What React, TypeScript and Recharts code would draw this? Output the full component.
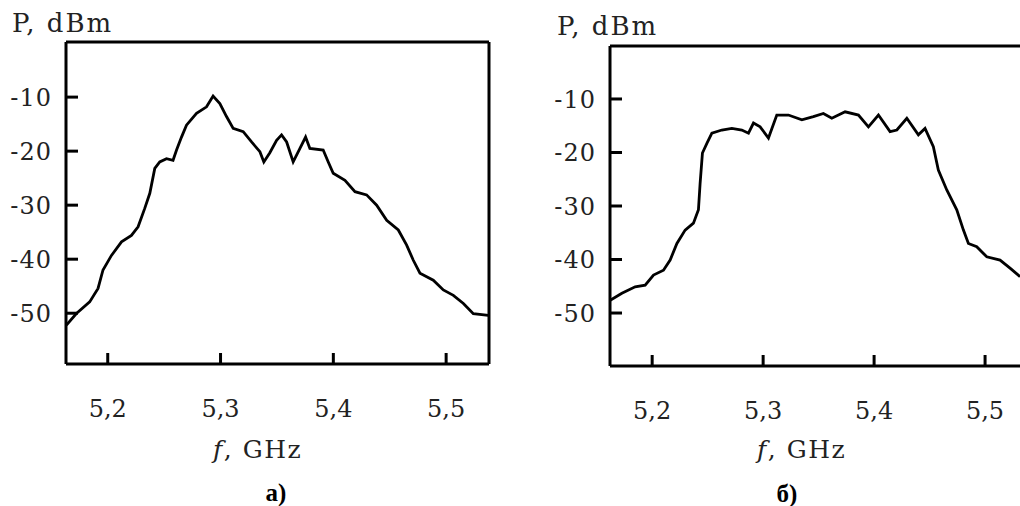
import { Line, LineChart, XAxis, YAxis } from "recharts";

// panel a) — spectrum
const FREQ_A = [
  5.1634, 5.172, 5.184, 5.1914, 5.1958, 5.2033, 5.2122, 5.221, 5.2269, 5.2328,
  5.2373, 5.2417, 5.2461, 5.2521, 5.2579, 5.261, 5.2654, 5.2698, 5.2787, 5.2876,
  5.2934, 5.2994, 5.3053, 5.3112, 5.3201, 5.3275, 5.3349, 5.3384, 5.3437, 5.3497,
  5.3541, 5.3586, 5.3644, 5.3704, 5.3754, 5.3792, 5.391, 5.3955, 5.3999, 5.4103,
  5.4192, 5.4295, 5.4384, 5.4473, 5.4576, 5.465, 5.4709, 5.4768, 5.4886, 5.4975,
  5.5064, 5.5153, 5.5241, 5.5374,
];
const POWER_A = [
  -52.2, -50.1, -47.9, -45.4, -42.0, -39.3, -36.8, -35.6, -34.0, -30.6,
  -27.8, -23.2, -22.0, -21.4, -21.7, -19.8, -17.4, -15.2, -13.0, -11.8,
  -9.8, -11.2, -13.6, -15.8, -16.4, -18.3, -20.1, -22.0, -20.3, -18.0,
  -17.0, -18.3, -22.0, -19.5, -17.4, -19.5, -19.8, -22.0, -24.1, -25.4,
  -27.5, -28.1, -30.0, -32.8, -34.6, -37.4, -40.2, -42.6, -43.9, -45.7,
  -46.7, -48.2, -50.1, -50.4,
];

// panel б)
const FREQ_B = [
  5.1622, 5.1727, 5.1847, 5.1937, 5.2012, 5.2102, 5.2162, 5.2223, 5.2297, 5.2372,
  5.2417, 5.2432, 5.2453, 5.2493, 5.2538, 5.2628, 5.2718, 5.2808, 5.2868, 5.2913,
  5.2973, 5.3048, 5.3123, 5.3228, 5.3349, 5.3453, 5.3543, 5.3619, 5.3739, 5.3859,
  5.3949, 5.4039, 5.4144, 5.4205, 5.4295, 5.4399, 5.4459, 5.4534, 5.4579, 5.4655,
  5.4745, 5.4805, 5.485, 5.4925, 5.5015, 5.5135, 5.5225, 5.5315,
];
const POWER_B = [
  -47.6, -46.3, -45.1, -44.8, -42.9, -42.0, -40.1, -37.0, -34.5, -33.2,
  -30.7, -25.8, -20.1, -18.3, -16.4, -15.8, -15.5, -15.8, -16.4, -14.5,
  -15.2, -17.3, -13.0, -13.0, -13.9, -13.3, -12.7, -13.6, -12.4, -13.0,
  -15.2, -13.0, -16.1, -15.8, -13.6, -16.7, -15.5, -18.9, -23.3, -27.0,
  -30.7, -34.5, -37.0, -37.6, -39.5, -40.1, -41.6, -43.2,
];

const FREQ_TICKS = [5.2, 5.3, 5.4, 5.5];
const POWER_TICKS = [-10, -20, -30, -40, -50];

const FONT = "'DejaVu Serif', serif";
const INK = "#222";

function zip(freq: number[], power: number[]) {
  return freq.map((f, i) => ({ f, p: power[i] }));
}

function XTick({ x, y, payload }: any) {
  return (
    <g>
      <line x1={x} x2={x} y1={y} y2={y - 11} stroke="#000" strokeWidth={3} />
      <text
        x={x}
        y={y + 53}
        textAnchor="middle"
        fontFamily={FONT}
        fontSize={24}
        fill={INK}
      >
        {String(payload.value).replace(".", ",")}
      </text>
    </g>
  );
}

function YTick({ x, y, payload }: any) {
  return (
    <g>
      <line x1={x} x2={x + 12} y1={y} y2={y} stroke="#000" strokeWidth={3} />
      <text
        x={x - 14}
        y={y}
        dy="0.36em"
        textAnchor="end"
        fontFamily={FONT}
        fontSize={24}
        letterSpacing={1}
        fill={INK}
      >
        {payload.value}
      </text>
    </g>
  );
}

function Panel({
  data,
  left,
  width,
  margin,
  xDomain,
  yDomain,
}: {
  data: { f: number; p: number }[];
  left: number;
  width: number;
  margin: { top: number; right: number; bottom: number; left: number };
  xDomain: [number, number];
  yDomain: [number, number];
}) {
  const axisLine = { stroke: "#000", strokeWidth: 3 };
  // axes take 1px each, so the margins are trimmed by that amount
  const m = {
    top: margin.top - 1,
    right: margin.right - 1,
    bottom: margin.bottom - 1,
    left: margin.left - 1,
  };
  return (
    <div style={{ position: "absolute", left, top: 0 }}>
      <LineChart width={width} height={506} data={data} margin={m}>
        <XAxis
          dataKey="f"
          type="number"
          domain={xDomain}
          allowDataOverflow
          ticks={FREQ_TICKS}
          height={1}
          tickSize={0}
          tickMargin={0}
          tickLine={false}
          axisLine={axisLine}
          tick={<XTick />}
          interval={0}
        />
        <XAxis
          xAxisId="top"
          orientation="top"
          type="number"
          domain={xDomain}
          allowDataOverflow
          height={1}
          tick={false}
          tickLine={false}
          axisLine={axisLine}
        />
        <YAxis
          type="number"
          domain={yDomain}
          allowDataOverflow
          ticks={POWER_TICKS}
          width={1}
          tickSize={0}
          tickMargin={0}
          tickLine={false}
          axisLine={axisLine}
          tick={<YTick />}
          interval={0}
        />
        <YAxis
          yAxisId="right"
          orientation="right"
          type="number"
          domain={yDomain}
          allowDataOverflow
          width={1}
          tick={false}
          tickLine={false}
          axisLine={axisLine}
        />
        <Line
          dataKey="p"
          type="linear"
          stroke="#000"
          strokeWidth={2.8}
          dot={false}
          isAnimationActive={false}
        />
      </LineChart>
    </div>
  );
}

export default function App() {
  const textStyle = { fontFamily: FONT, fill: INK };
  return (
    <div
      style={{
        position: "absolute",
        left: 0,
        top: 0,
        width: 1020,
        height: 506,
        overflow: "hidden",
        background: "#fff",
      }}
    >
      <Panel
        data={zip(FREQ_A, POWER_A)}
        left={0}
        width={540}
        margin={{ top: 42, left: 66, right: 51, bottom: 142 }}
        xDomain={[5.163, 5.538]}
        yDomain={[-59.4, 0.2]}
      />
      <Panel
        data={zip(FREQ_B, POWER_B)}
        left={540}
        width={520}
        margin={{ top: 46, left: 70, right: 25, bottom: 140 }}
        xDomain={[5.162, 5.545]}
        yDomain={[-59.9, -0.1]}
      />
      <svg
        width={1020}
        height={506}
        style={{ position: "absolute", left: 0, top: 0, pointerEvents: "none" }}
      >
        <text x={12} y={32} fontSize={26} letterSpacing={2} {...textStyle}>
          P, dBm
        </text>
        <text x={557} y={35} fontSize={26} letterSpacing={2} {...textStyle}>
          P, dBm
        </text>
        <text x={213} y={458} fontSize={25} letterSpacing={1.5} {...textStyle}>
          <tspan fontStyle="italic">f</tspan>, GHz
        </text>
        <text x={757} y={458} fontSize={25} letterSpacing={1.5} {...textStyle}>
          <tspan fontStyle="italic">f</tspan>, GHz
        </text>
        <text
          x={276}
          y={501}
          textAnchor="middle"
          fontFamily="'Liberation Serif', serif"
          fontWeight="bold"
          fontSize={25}
          fill="#000"
        >
          а)
        </text>
        <text
          x={787}
          y={502}
          textAnchor="middle"
          fontFamily="'Liberation Serif', serif"
          fontWeight="bold"
          fontSize={25}
          fill="#000"
        >
          б)
        </text>
      </svg>
    </div>
  );
}
